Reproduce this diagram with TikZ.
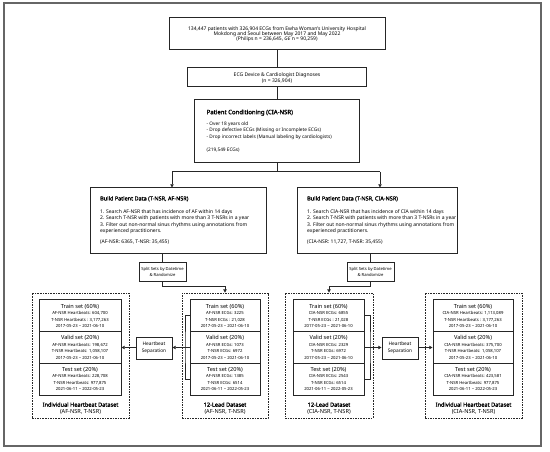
\documentclass[tikz,border=0pt]{standalone}
\usepackage{fontspec}
\setmainfont{Noto Sans}
\newfontfamily\headfont{Noto Sans}[FakeBold=1.6]
\usetikzlibrary{arrows.meta,calc}
\newcommand\szTop{\fontsize{5}{5.3}\selectfont}
\newcommand\szBody{\fontsize{5}{6.6}\selectfont}
\newcommand\szHead{\headfont\fontsize{5.5}{6}\selectfont}
\newcommand\szPC{\headfont\fontsize{6}{6}\selectfont}
\newcommand\szSet{\fontsize{5.6}{6.6}\selectfont}
\newcommand\szSmall{\fontsize{4.2}{5}\selectfont}
\newcommand\setcontent[4]{{\szSet #1}\\[-0.3pt]{\szSmall #2}\\{\szSmall #3}\\{\szSmall #4}}
\begin{document}
\begin{tikzpicture}[x=1pt,y=-1pt,
  box/.style={draw=black!85, line width=1pt, inner sep=0pt, align=center, fill=white},
  grp/.style={draw=black!85, line width=0.8pt, dash pattern=on 1.6pt off 1pt, inner sep=0pt},
  setbox/.style={box, minimum height=31.67pt, font=\szSet},
  txt/.style={inner sep=0pt, align=left, anchor=west},
  lbl/.style={inner sep=0pt, align=center, font=\fontsize{5.6}{6.4}\selectfont},
  arr/.style={-{Triangle[length=3.2pt,width=3.4pt]}, line width=1pt, draw=black!85},
  ln/.style={line width=1pt, draw=black!85}]
\useasboundingbox (0,0) rectangle (550,452);
\draw[draw=black!60, line width=1.2pt] (4,3) rectangle (541,446);

% top chain
\node[box, minimum width=216pt, minimum height=32pt, font=\szTop] (top) at (277,34)
  {134,447 patients with 326,904 ECGs from Ewha Woman's University Hospital\\
   Mokdong and Seoul between May 2017 and May 2022\\
   (Philips n = 236,645, \textit{GE} n = 90,259)};
\node[box, minimum width=179pt, minimum height=19pt, font=\fontsize{5}{6}\selectfont] (ecg) at (277,77.5)
  {ECG Device \& Cardiologist Diagnoses\\(n = 326,904)};
\node[box, minimum width=165pt, minimum height=63pt] (pc) at (277,131.5) {};
\node[txt, font=\fontsize{4.75}{6.6}\selectfont] (pct) at ([xshift=12.5pt,yshift=0.5pt]pc.west)
  {{\szPC Patient Conditioning (CIA-NSR)}\\[4.5pt]
   - Over 18 years old\\
   - Drop defective ECGs (Missing or Incomplete ECGs)\\
   - Drop incorrect labels (Manual labeling by cardiologists)\\[6.5pt]
   (219,549 ECGs)};
\draw[ln] (top) -- (ecg);
\draw[ln] (ecg) -- (pc);

% build boxes
\node[box, minimum width=176pt, minimum height=65pt] (bl) at (178,220.5) {};
\node[txt, font=\szBody] (blt) at ([xshift=10.5pt]bl.west)
  {{\szHead Build Patient Data (T-NSR, AF-NSR)}\\[6pt]
   1. Search AF-NSR that has incidence of AF within 14 days\\
   2. Search T-NSR with patients with more than 3 T-NSRs in a year\\
   3. Filter out non-normal sinus rhythms using annotations from\\
   experienced practitioners.\\[4.5pt]
   (AF-NSR: 6365, T-NSR: 35,455)};
\node[box, minimum width=160pt, minimum height=65pt] (br) at (377,220.5) {};
\node[txt, font=\szBody] (brt) at ([xshift=10.5pt]br.west)
  {{\szHead Build Patient Data (T-NSR, CIA-NSR)}\\[6pt]
   1. Search CIA-NSR that has incidence of CIA within 14 days\\
   2. Search T-NSR with patients with more than 3 T-NSRs in a year\\
   3. Filter out non-normal sinus rhythms using annotations from\\
   experienced practitioners.\\[4.5pt]
   (CIA-NSR: 11,727, T-NSR: 35,455)};
\coordinate (jl) at (172,172);
\coordinate (jr) at (380,172);
\draw[ln] (pc.south) -- (pc.south |- jl);
\draw[ln] (jl) -- (jr);
\draw[arr] (jl) -- (jl |- bl.north);
\draw[arr] (jr) -- (jr |- br.north);

% split boxes
\node[box, minimum width=47pt, minimum height=19pt, font=\fontsize{4.15}{6}\selectfont] (sl) at (162.5,271.5)
  {Split Sets by Datetime\\\& Randomize};
\node[box, minimum width=47pt, minimum height=19pt, font=\fontsize{4.15}{6}\selectfont] (sr) at (370.5,271.5)
  {Split Sets by Datetime\\\& Randomize};
\draw[ln] (sl.north |- bl.south) -- (sl.north);
\draw[ln] (sr.north |- br.south) -- (sr.north);

% groups
\node[grp, minimum width=97pt, minimum height=125pt] (g1) at (80.5,355.5) {};
\node[grp, minimum width=86pt, minimum height=125pt] (g2) at (225,355.5) {};
\node[grp, minimum width=88pt, minimum height=125pt] (g3) at (329,355.5) {};
\node[grp, minimum width=97pt, minimum height=125pt] (g4) at (473.5,355.5) {};

\coordinate (kl) at (225,286);
\coordinate (kr) at (329,286);
\draw[ln] (sl.south) |- (kl);
\draw[arr] (kl) -- (g2.north);
\draw[ln] (sr.south) |- (kr);
\draw[arr] (kr) -- (g3.north);

% set boxes group 1
\node[setbox, minimum width=82pt] (g1a) at (80,315.83)
  {\setcontent{Train set (60\%)}{AF-NSR Heartbeats: 604,700}{T-NSR Heartbeats : 3,177,263}{2017-05-23 \textasciitilde{} 2021-06-10}};
\node[setbox, minimum width=82pt] (g1b) at (80,347.5)
  {\setcontent{Valid set (20\%)}{AF-NSR Heartbeats: 198,672}{T-NSR Heartbeats: 1,058,107}{2017-05-23 \textasciitilde{} 2021-06-10}};
\node[setbox, minimum width=82pt] (g1c) at (80,379.17)
  {\setcontent{Test set (20\%)}{AF-NSR Heartbeats: 228,708}{T-NSR Heartbeats: 977,875}{2021-06-11 \textasciitilde{} 2022-05-23}};
\node[lbl] (g1l) at (80.5,408.5) {{\headfont Individual Heartbeat Dataset}\\[0.6pt](AF-NSR, T-NSR)};

% group 2
\node[setbox, minimum width=70pt] (g2a) at (225,315.83)
  {\setcontent{Train set (60\%)}{AF-NSR ECGs: 3225}{T-NSR ECGs : 21,028}{2017-05-23 \textasciitilde{} 2021-06-10}};
\node[setbox, minimum width=70pt] (g2b) at (225,347.5)
  {\setcontent{Valid set (20\%)}{AF-NSR ECGs: 1073}{T-NSR ECGs: 6972}{2017-05-23 \textasciitilde{} 2021-06-10}};
\node[setbox, minimum width=70pt] (g2c) at (225,379.17)
  {\setcontent{Test set (20\%)}{AF-NSR ECGs: 1385}{T-NSR ECGs: 6514}{2021-06-11 \textasciitilde{} 2022-05-23}};
\node[lbl] (g2l) at (225,408.5) {{\headfont 12-Lead Dataset}\\[0.6pt](AF-NSR, T-NSR)};

% group 3
\node[setbox, minimum width=71pt] (g3a) at (328.5,315.83)
  {\setcontent{Train set (60\%)}{CIA-NSR ECGs: 6855}{T-NSR ECGs : 21,028}{2017-05-23 \textasciitilde{} 2021-06-10}};
\node[setbox, minimum width=71pt] (g3b) at (328.5,347.5)
  {\setcontent{Valid set (20\%)}{CIA-NSR ECGs: 2329}{T-NSR ECGs: 6972}{2017-05-23 \textasciitilde{} 2021-06-10}};
\node[setbox, minimum width=71pt] (g3c) at (328.5,379.17)
  {\setcontent{Test set (20\%)}{CIA-NSR ECGs: 2543}{T-NSR ECGs: 6514}{2021-06-11 \textasciitilde{} 2022-05-23}};
\node[lbl] (g3l) at (329,408.5) {{\headfont 12-Lead Dataset}\\[0.6pt](CIA-NSR, T-NSR)};

% group 4
\node[setbox, minimum width=80pt] (g4a) at (473,315.83)
  {\setcontent{Train set (60\%)}{CIA-NSR Heartbeats: 1,113,089}{T-NSR Heartbeats : 3,177,263}{2017-05-23 \textasciitilde{} 2021-06-10}};
\node[setbox, minimum width=80pt] (g4b) at (473,347.5)
  {\setcontent{Valid set (20\%)}{CIA-NSR Heartbeats: 375,700}{T-NSR Heartbeats: 1,058,107}{2017-05-23 \textasciitilde{} 2021-06-10}};
\node[setbox, minimum width=80pt] (g4c) at (473,379.17)
  {\setcontent{Test set (20\%)}{CIA-NSR Heartbeats: 423,581}{T-NSR Heartbeats: 977,875}{2021-06-11 \textasciitilde{} 2022-05-23}};
\node[lbl] (g4l) at (473.5,408.5) {{\headfont Individual Heartbeat Dataset}\\[0.6pt](CIA-NSR, T-NSR)};

% heartbeat separation
\node[box, minimum width=36pt, minimum height=22pt, font=\fontsize{4.8}{6.8}\selectfont] (hsl) at (154,348) {Heartbeat\\Separation};
\node[box, minimum width=36pt, minimum height=22pt, font=\fontsize{4.8}{6.8}\selectfont] (hsr) at (400,348) {Heartbeat\\Separation};

% brackets
\coordinate (bk2) at (185,347.5);
\coordinate (bk3) at (370,347.5);
\draw[ln] (g2a.west) -| (bk2) |- (g2c.west);
\draw[ln] (g3a.east) -| (bk3) |- (g3c.east);
\draw[arr] (g2b.west) -- (g2b.west -| hsl.east);
\draw[arr] (hsl.west |- g1b.east) -- (g1b.east);
\draw[arr] (g3b.east) -- (g3b.east -| hsr.west);
\draw[arr] (hsr.east |- g4b.west) -- (g4b.west);
\end{tikzpicture}
\end{document}
